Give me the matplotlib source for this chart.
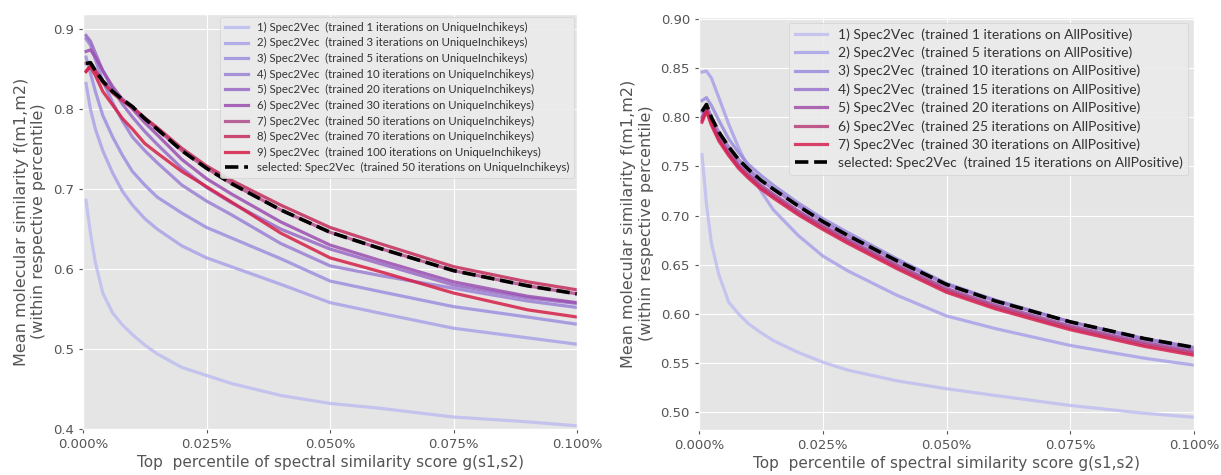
import matplotlib
matplotlib.use('Agg')
import matplotlib.pyplot as plt
from matplotlib.ticker import PercentFormatter, FormatStrFormatter

plt.style.use('ggplot')

# top percentile (in %)
x_pct = [0.0006, 0.0015, 0.0025, 0.004, 0.006, 0.008, 0.010, 0.0125, 0.015,
         0.020, 0.025, 0.030, 0.040, 0.050, 0.060, 0.075, 0.090, 0.100]

# ---- left: trained on UniqueInchikeys ----
iters_left = [1, 3, 5, 10, 20, 30, 50, 70, 100]
left_1 = [0.686, 0.645, 0.608, 0.570, 0.545, 0.530, 0.518, 0.505, 0.494, 0.477, 0.467, 0.457, 0.442, 0.432, 0.426, 0.415, 0.409, 0.404]
left_2 = [0.832, 0.800, 0.775, 0.748, 0.720, 0.697, 0.680, 0.663, 0.650, 0.629, 0.614, 0.603, 0.581, 0.558, 0.545, 0.526, 0.514, 0.506]
left_3 = [0.865, 0.845, 0.822, 0.792, 0.765, 0.742, 0.722, 0.705, 0.690, 0.670, 0.652, 0.639, 0.613, 0.585, 0.572, 0.553, 0.540, 0.531]
left_4 = [0.888, 0.880, 0.862, 0.835, 0.808, 0.785, 0.765, 0.748, 0.733, 0.705, 0.685, 0.668, 0.632, 0.604, 0.592, 0.576, 0.560, 0.552]
left_5 = [0.892, 0.885, 0.870, 0.848, 0.825, 0.806, 0.790, 0.772, 0.756, 0.726, 0.702, 0.683, 0.650, 0.625, 0.607, 0.580, 0.564, 0.557]
left_6 = [0.872, 0.874, 0.865, 0.848, 0.828, 0.812, 0.800, 0.783, 0.768, 0.737, 0.713, 0.694, 0.659, 0.630, 0.611, 0.584, 0.566, 0.558]
left_7 = [0.857, 0.858, 0.848, 0.835, 0.822, 0.812, 0.803, 0.788, 0.775, 0.748, 0.726, 0.707, 0.674, 0.646, 0.626, 0.598, 0.579, 0.569]
left_8 = [0.847, 0.854, 0.848, 0.833, 0.820, 0.810, 0.802, 0.789, 0.777, 0.751, 0.729, 0.711, 0.680, 0.652, 0.632, 0.603, 0.584, 0.574]
left_9 = [0.847, 0.853, 0.842, 0.822, 0.805, 0.788, 0.775, 0.757, 0.745, 0.722, 0.703, 0.684, 0.645, 0.614, 0.597, 0.570, 0.549, 0.540]
left_series = [left_1, left_2, left_3, left_4, left_5, left_6, left_7, left_8, left_9]
left_selected = 6  # 50 iterations
left_colors = ['#bdbdf0', '#a9a3e8', '#9d90df', '#9a80d4', '#9a6ac6',
               '#9b4fb0', '#b04c8c', '#c42d5c', '#d51f48']

# ---- right: trained on AllPositive ----
iters_right = [1, 5, 10, 15, 20, 25, 30]
right_1 = [0.762, 0.712, 0.672, 0.640, 0.612, 0.600, 0.590, 0.581, 0.573, 0.561, 0.551, 0.543, 0.532, 0.524, 0.517, 0.507, 0.499, 0.495]
right_2 = [0.846, 0.847, 0.840, 0.820, 0.793, 0.769, 0.748, 0.725, 0.706, 0.680, 0.659, 0.644, 0.619, 0.598, 0.585, 0.568, 0.555, 0.548]
right_3 = [0.817, 0.820, 0.812, 0.797, 0.778, 0.764, 0.752, 0.741, 0.731, 0.713, 0.697, 0.683, 0.656, 0.631, 0.614, 0.592, 0.574, 0.565]
right_4 = [0.806, 0.813, 0.800, 0.785, 0.770, 0.757, 0.747, 0.736, 0.727, 0.710, 0.694, 0.680, 0.654, 0.630, 0.613, 0.592, 0.575, 0.566]
right_5 = [0.800, 0.810, 0.796, 0.780, 0.765, 0.752, 0.742, 0.731, 0.722, 0.705, 0.690, 0.676, 0.650, 0.626, 0.609, 0.588, 0.571, 0.562]
right_6 = [0.797, 0.808, 0.794, 0.778, 0.763, 0.750, 0.740, 0.729, 0.720, 0.703, 0.688, 0.674, 0.648, 0.624, 0.607, 0.586, 0.569, 0.560]
right_7 = [0.795, 0.806, 0.792, 0.776, 0.761, 0.748, 0.738, 0.727, 0.718, 0.701, 0.686, 0.672, 0.646, 0.622, 0.605, 0.584, 0.567, 0.558]
right_series = [right_1, right_2, right_3, right_4, right_5, right_6, right_7]
right_selected = 3  # 15 iterations
right_colors = ['#c0bff0', '#a8a2e8', '#9b8cdc', '#9b75cc', '#a050a8', '#b8407a', '#d52050']

xlabel = 'Top  percentile of spectral similarity score g(s1,s2)'
ylabel = 'Mean molecular similarity f(m1,m2)\n(within respective percentile)'

fig = plt.figure(figsize=(12.21, 4.75), dpi=100)
ax1 = fig.add_axes([0.068, 0.0968, 0.4046, 0.874])
ax2 = fig.add_axes([0.5725, 0.0947, 0.4054, 0.8695])


def draw(ax, series, iters, colors, sel, dataset, fs, hl, lsp, pad):
    for i, (ys, n, c) in enumerate(zip(series, iters, colors)):
        ax.plot(x_pct, ys, color=c, lw=2.3, alpha=0.85,
                label=f'{i + 1}) Spec2Vec  (trained {n} iterations on {dataset})')
    ax.plot(x_pct, series[sel], 'k--', lw=2.6,
            label=f'selected: Spec2Vec  (trained {iters[sel]} iterations on {dataset})')
    ax.set_xlim(0, 0.1)
    ax.set_xticks([0, 0.025, 0.05, 0.075, 0.1])
    ax.xaxis.set_major_formatter(PercentFormatter(xmax=100, decimals=3))
    ax.set_xlabel(xlabel, fontsize=11, color='#555555', labelpad=3)
    ax.set_ylabel(ylabel, fontsize=11.5, color='#555555', labelpad=5)
    ax.tick_params(labelsize=9.5, colors='#555555', length=3)
    leg = ax.legend(loc='upper right', handlelength=hl,
                    prop={'family': 'Lato', 'size': fs},
                    facecolor='#ebebeb', edgecolor='#d0d0d0', framealpha=0.9,
                    labelspacing=lsp, borderaxespad=pad)
    for t in leg.get_texts():
        t.set_color('#333333')


draw(ax1, left_series, iters_left, left_colors, left_selected, 'UniqueInchikeys', 8.2, 2.0, 0.4, 0.3)
ax1.set_ylim(0.4, 0.919)
ax1.set_yticks([0.4, 0.5, 0.6, 0.7, 0.8, 0.9])
ax1.yaxis.set_major_formatter(FormatStrFormatter('%.1f'))

draw(ax2, right_series, iters_right, right_colors, right_selected, 'AllPositive', 10, 2.3, 0.42, 0.4)
ax2.set_ylim(0.482, 0.902)
ax2.set_yticks([0.5, 0.55, 0.6, 0.65, 0.7, 0.75, 0.8, 0.85, 0.9])
ax2.yaxis.set_major_formatter(FormatStrFormatter('%.2f'))

fig.savefig('out.png', dpi=100)
